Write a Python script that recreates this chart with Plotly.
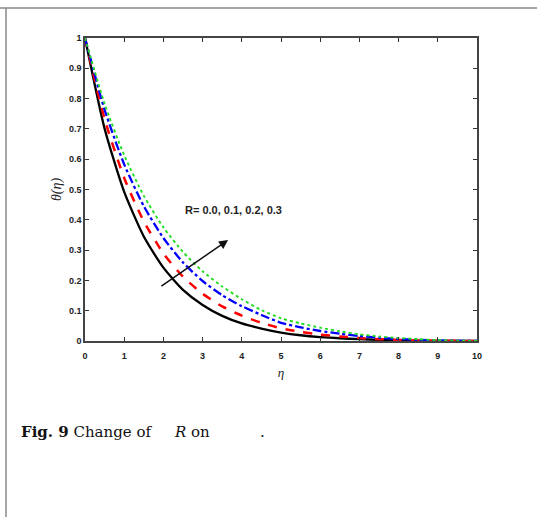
import plotly.graph_objects as go

# similarity variable
eta = [0, 0.5, 1, 1.5, 2, 2.5, 3, 3.5, 4, 4.5, 5, 5.5, 6, 6.5, 7, 7.5, 8, 8.5, 9, 9.5, 10]

# temperature profiles theta(eta) for R = 0.0, 0.1, 0.2, 0.3
theta_r00 = [1.000, 0.701, 0.492, 0.345, 0.242, 0.169, 0.119, 0.083, 0.058, 0.041, 0.028,
             0.019, 0.013, 0.009, 0.006, 0.004, 0.002, 0.001, 0.0005, 0.0, 0.0]
theta_r01 = [1.000, 0.733, 0.538, 0.395, 0.289, 0.212, 0.156, 0.114, 0.084, 0.060, 0.042,
             0.030, 0.021, 0.015, 0.010, 0.006, 0.004, 0.002, 0.001, 0.0005, 0.0]
theta_r02 = [1.000, 0.763, 0.583, 0.445, 0.340, 0.259, 0.198, 0.151, 0.115, 0.086, 0.060,
             0.045, 0.033, 0.024, 0.016, 0.011, 0.007, 0.004, 0.002, 0.001, 0.0]
theta_r03 = [1.000, 0.783, 0.613, 0.479, 0.375, 0.294, 0.230, 0.180, 0.138, 0.102, 0.075,
             0.058, 0.044, 0.032, 0.022, 0.015, 0.010, 0.006, 0.003, 0.001, 0.0]

x_ticks = [0, 1, 2, 3, 4, 5, 6, 7, 8, 9, 10]
y_ticks = [0, 0.1, 0.2, 0.3, 0.4, 0.5, 0.6, 0.7, 0.8, 0.9, 1]
y_tick_text = ["0", "0.1", "0.2", "0.3", "0.4", "0.5", "0.6", "0.7", "0.8", "0.9", "1"]

series = [
    (theta_r00, "black", "solid", 2.3),
    (theta_r01, "red", "dash", 2.5),
    (theta_r02, "blue", "dashdot", 2.3),
    (theta_r03, "#22dd22", "dot", 1.9),
]

fig = go.Figure()
for ys, color, dash, w in series:
    fig.add_trace(go.Scatter(x=eta, y=ys, mode="lines",
                             line=dict(color=color, dash=dash, width=w, shape="spline", smoothing=0.6),
                             showlegend=False, hoverinfo="skip"))

W, H = 537, 517
L, R, T, B = 85, 60, 38, 176
pw, ph = W - L - R, H - T - B

def px(xpix):
    return (xpix - L) / pw

def py(ypix):
    return (H - B - ypix) / ph

axis_common = dict(
    showline=True, linecolor="#444", linewidth=1.5, mirror="allticks",
    ticks="inside", ticklen=4, tickwidth=1.2, tickcolor="#333",
    showgrid=False, zeroline=False,
    tickfont=dict(family="Liberation Sans, Arial", size=9, color="#222", weight="bold"),
)

fig.update_xaxes(range=[0, 10], tickvals=x_ticks, ticklabelstandoff=5, **axis_common,
                 title=dict(text="η", font=dict(family="Liberation Serif", size=13, color="#222", style="italic"),
                            standoff=8))
fig.update_yaxes(range=[0, 1], tickvals=y_ticks, ticktext=y_tick_text, **axis_common,
                 title=dict(text="θ(η)", font=dict(family="Liberation Serif", size=14, color="#222", style="italic"),
                            standoff=4))

# parameter arrow and label
fig.add_annotation(x=3.65, y=0.333, ax=1.91, ay=0.178, xref="x", yref="y", axref="x", ayref="y",
                   showarrow=True, arrowhead=2, arrowsize=1.2, arrowwidth=1.5, arrowcolor="#111", text="")
fig.add_annotation(x=3.78, y=0.432, xref="x", yref="y", showarrow=False,
                   text="<b>R= 0.0, 0.1, 0.2, 0.3</b>",
                   font=dict(family="Liberation Sans, Arial", size=11, color="#222"))

# caption
cap_font = dict(family="DejaVu Serif, Liberation Serif", size=15, color="#111")
fig.add_annotation(x=px(19), y=py(432), xref="paper", yref="paper", showarrow=False,
                   xanchor="left", yanchor="middle", text="<b>Fig. 9</b> Change of", font=cap_font)
fig.add_annotation(x=px(172), y=py(432), xref="paper", yref="paper", showarrow=False,
                   xanchor="left", yanchor="middle", text="<i>R</i> on", font=cap_font)
fig.add_annotation(x=px(258), y=py(432), xref="paper", yref="paper", showarrow=False,
                   xanchor="left", yanchor="middle", text=".", font=cap_font)

# page frame lines
fig.add_shape(type="line", xref="paper", yref="paper", x0=px(0), x1=px(537), y0=py(8), y1=py(8),
              line=dict(color="#888", width=1.5))
fig.add_shape(type="line", xref="paper", yref="paper", x0=px(6), x1=px(6), y0=py(8), y1=py(517),
              line=dict(color="#888", width=1.5))

fig.update_layout(width=W, height=H, margin=dict(l=L, r=R, t=T, b=B),
                  paper_bgcolor="white", plot_bgcolor="white")

fig.write_html("out.html")
